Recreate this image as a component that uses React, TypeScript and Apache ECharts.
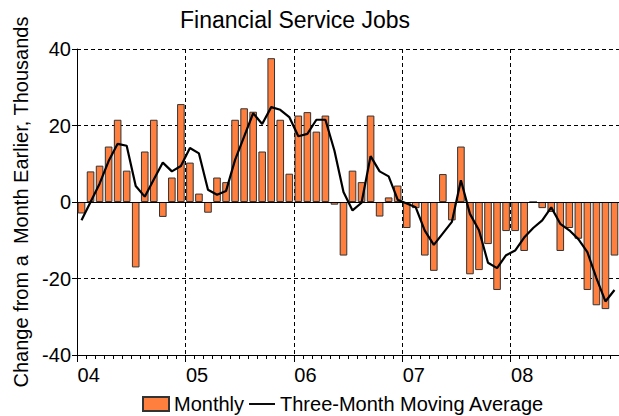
import React, { useEffect, useRef } from "react";
import * as echarts from "echarts";

const yearLabels = ["04", "05", "06", "07", "08"];

const monthly = [
  -3, 8, 9.5, 14.5, 21.5, 8.2, -17.1, 13.2, 21.5, -3.9, 6.4, 25.6,
  10.3, 2.2, -2.8, 6.4, 5.2, 21.5, 24.5, 23.6, 13.2, 37.6, 21.5, 7.4,
  22.6, 23.5, 18.4, 22.6, -0.7, -14, 8.2, 5.2, 22.6, -3.8, 1.2, 4.3,
  -6.8, -1.6, -14, -18, 7.3, -4.8, 14.5, -18.9, -17.8, -11, -23, -7.6,
  -7.6, -12.8, 0, -1.6, -2.6, -12.8, -6.8, -9.6, -23, -27, -28, -14,
];

const movingAverage = [
  -4.8, 0, 4.8, 10.7, 15.2, 14.7, 4.2, 1.4, 5.9, 10.3, 8.0, 9.4,
  14.1, 12.7, 3.2, 1.9, 2.9, 11.0, 17.1, 23.2, 20.4, 24.8, 24.1, 22.2,
  17.2, 17.8, 21.5, 21.5, 13.4, 2.6, -2.2, -0.2, 12.0, 8.0, 6.7, 0.6,
  -0.4, -1.4, -7.5, -11.2, -8.2, -5.2, 5.7, -3.1, -7.4, -15.9, -17.3, -13.9,
  -12.7, -9.3, -6.8, -4.8, -1.4, -5.7, -7.4, -9.7, -13.1, -19.9, -26.0, -23.0,
];

const categories: string[] = [];
yearLabels.forEach((y) => {
  for (let m = 1; m <= 12; m++) categories.push(y + "-" + (m < 10 ? "0" + m : m));
});

const FONT = "'Liberation Sans', Arial, sans-serif";

export default function App() {
  const ref = useRef<HTMLDivElement>(null);
  useEffect(() => {
    if (!ref.current) return;
    const chart = echarts.init(ref.current, undefined, { renderer: "svg" });
    chart.setOption({
      animation: false,
      backgroundColor: "#ffffff",
      textStyle: { fontFamily: FONT },
      title: {
        text: "Financial Service Jobs",
        left: 180,
        top: 8,
        padding: 0,
        textStyle: { fontSize: 23, fontWeight: "normal", color: "#000", fontFamily: FONT },
      },
      legend: {
        left: 142,
        top: 394,
        padding: 0,
        itemWidth: 26,
        itemHeight: 14,
        itemGap: 5,
        textStyle: { fontSize: 20, color: "#000", fontFamily: FONT },
        data: [
          { name: "Monthly", icon: "rect" },
          {
            name: "Three-Month Moving Average",
            icon: "path://M0,0 L30,0 L30,2.2 L0,2.2 Z",
            itemStyle: { color: "#000", borderWidth: 0 },
          },
        ],
      },
      grid: { left: 77, top: 49, width: 543, height: 306, containLabel: false },
      xAxis: [
        {
          type: "category",
          data: categories,
          boundaryGap: true,
          axisLine: { onZero: false, lineStyle: { color: "#000", width: 1 } },
          axisTick: { show: true, interval: 0, length: 4, lineStyle: { color: "#000" } },
          axisLabel: {
            interval: (i: number) => i % 12 === 0,
            formatter: (v: string) => v.slice(0, 2),
            align: "left",
            padding: [0, 0, 0, -4],
            margin: 10,
            fontSize: 20,
            color: "#000",
            fontFamily: FONT,
          },
          splitLine: {
            show: true,
            interval: (i: number) => i % 12 === 0 && i > 0,
            lineStyle: { color: "#000", type: [4, 3], width: 1 },
          },
        },
        {
          type: "category",
          data: categories,
          position: "bottom",
          boundaryGap: true,
          axisLine: { show: false, onZero: false },
          axisTick: {
            show: true,
            interval: (i: number) => i % 12 === 0,
            length: 7,
            lineStyle: { color: "#000" },
          },
          axisLabel: { show: false },
          splitLine: { show: false },
        },
      ],
      yAxis: {
        type: "value",
        min: -40,
        max: 40,
        interval: 20,
        name: "Change from a  Month Earlier, Thousands",
        nameLocation: "middle",
        nameRotate: 90,
        nameGap: 46,
        nameTextStyle: { fontSize: 20, color: "#000", fontFamily: FONT },
        axisLine: { show: true, lineStyle: { color: "#000", width: 1 } },
        axisTick: { show: true, length: 5, lineStyle: { color: "#000" } },
        axisLabel: { fontSize: 20, color: "#000", margin: 6, fontFamily: FONT },
        splitLine: {
          show: true,
          lineStyle: { color: "#000", type: [4, 3], width: 1 },
        },
      },
      series: [
        {
          name: "Monthly",
          type: "bar",
          data: monthly,
          barWidth: 7.6,
          itemStyle: { color: "#FF7F3F", borderColor: "#333", borderWidth: 1 },
          markLine: {
            silent: true,
            symbol: ["none", "none"],
            label: { show: false },
            lineStyle: { color: "#000", width: 1, type: "solid" },
            data: [{ yAxis: 0 }],
          },
        },
        {
          name: "Three-Month Moving Average",
          type: "line",
          data: movingAverage,
          symbol: "none",
          showSymbol: false,
          lineStyle: { color: "#000", width: 2.2 },
          itemStyle: { color: "#000" },
          z: 5,
        },
      ],
    });
    return () => chart.dispose();
  }, []);
  return (
    <div
      ref={ref}
      style={{ position: "absolute", left: 0, top: 0, width: 619, height: 416 }}
    />
  );
}
